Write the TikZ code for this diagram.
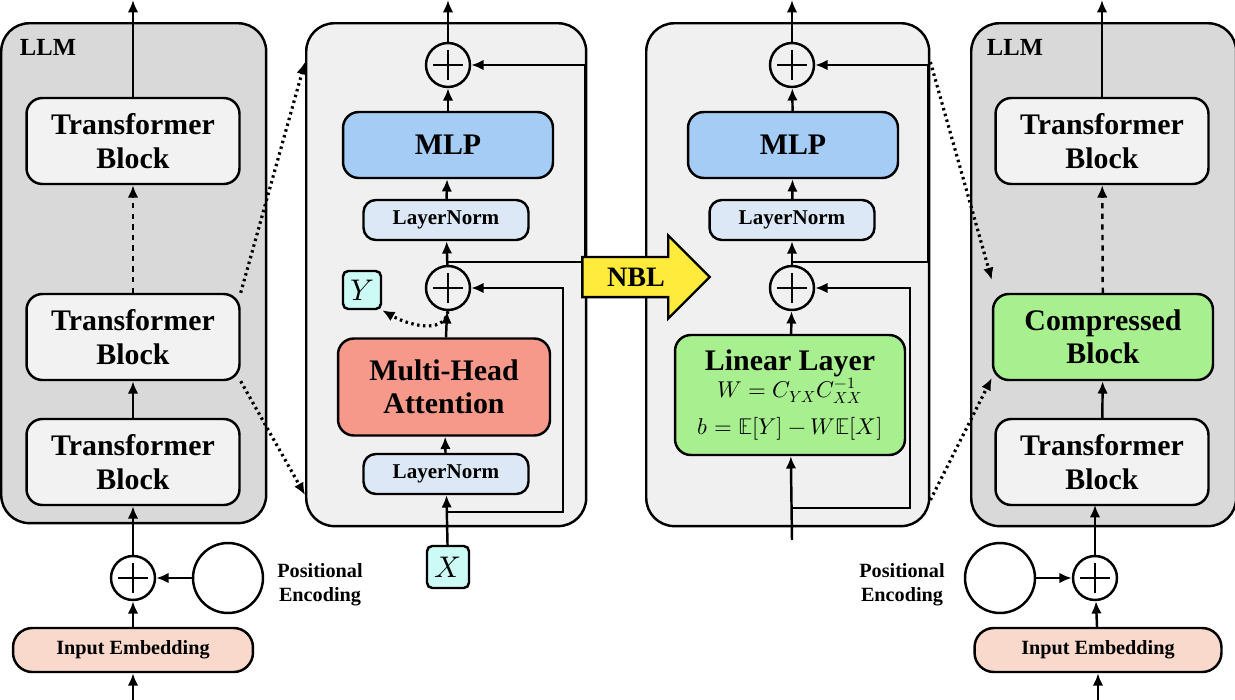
\documentclass[tikz,border=0pt]{standalone}
\usepackage{amsmath,amssymb}
\usepackage{fontspec}
\setmainfont{Liberation Serif}
\usepackage{unicode-math}
\setmathfont{Latin Modern Math}
\usetikzlibrary{positioning, arrows.meta, shapes.arrows}
\definecolor{llmgray}{RGB}{217,217,217}
\definecolor{panelgray}{RGB}{240,240,240}
\definecolor{blockgray}{RGB}{242,242,242}
\definecolor{mlpblue}{RGB}{164,204,245}
\definecolor{lnblue}{RGB}{220,232,246}
\definecolor{attnred}{RGB}{246,152,138}
\definecolor{lingreen}{RGB}{168,240,143}
\definecolor{embpink}{RGB}{248,217,204}
\definecolor{varcyan}{RGB}{204,250,245}
\definecolor{nblyellow}{RGB}{255,235,60}
\tikzset{
>={Latex[length=7pt,width=6pt]}, % arrow heads
every path/.style={line width=1.4pt},
panel/.style={draw, rounded corners=16pt},
block/.style={draw, rounded corners=9pt, align=center, font=\bfseries\fontsize{17}{19}\selectfont},
tblock/.style={block, fill=blockgray, minimum width=4.26cm, minimum height=1.72cm},
norm/.style={draw, rounded corners=7pt, fill=lnblue, minimum width=3.3cm, minimum height=0.8cm, font=\bfseries\fontsize{12}{14}\selectfont},
embed/.style={draw, rounded corners=11pt, fill=embpink, minimum width=4.8cm, minimum height=0.88cm, font=\bfseries\fontsize{11.5}{13}\selectfont},
adder/.style={draw, circle, minimum size=0.88cm, inner sep=0pt, path picture={
  \draw[line width=1.6pt] ([xshift=-0.3cm]path picture bounding box.center) -- ([xshift=0.3cm]path picture bounding box.center)
  ([yshift=-0.3cm]path picture bounding box.center) -- ([yshift=0.3cm]path picture bounding box.center);}},
wave/.style={draw, circle, minimum size=1.4cm, inner sep=0pt},
var/.style={draw, rounded corners=3pt, fill=varcyan, minimum size=0.76cm, inner sep=0pt, font=\fontsize{17}{19}\selectfont},
lbl/.style={font=\bfseries\fontsize{11.5}{13.5}\selectfont, align=center},
dots/.style={dotted, line width=1.8pt},
}
\newcommand{\sinewave}[2]{\draw[line width=1pt] plot[smooth, samples=30, domain=-35:35] ({#1+\x}, {#2-20*sin(\x*180/35)});}

\begin{document}
\begin{tikzpicture}[x=0.02cm, y=-0.02cm]
\useasboundingbox (0,0) rectangle (1235,700);

% left LLM
\node[panel, fill=llmgray, minimum width=5.3cm, minimum height=10cm, anchor=north west] (llmL) at (0,22) {};
\node[font=\bfseries\fontsize{14}{16}\selectfont] at (48,47) {LLM};
\node[tblock] (tbL3) at (133,141) {Transformer\\Block};
\node[tblock] (tbL2) at (133,337) {Transformer\\Block};
\node[tblock] (tbL1) at (133,462) {Transformer\\Block};
\node[adder] (addL) at (133,578) {};
\node[wave] (posL) at (228,578) {};
\sinewave{228}{578}
\node[lbl] at (320,585) {Positional\\Encoding};
\node[embed] (embL) at (133,650) {Input Embedding};
\coordinate (inL) at (133,700);
\coordinate (outL) at (133,0);
\draw[->] (inL) -- (embL);
\draw[->] (embL) -- (addL);
\draw[->] (posL) -- (addL);
\draw[->] (addL) -- (tbL1);
\draw[->] (tbL1) -- (tbL2);
\draw[->, dashed] (tbL2) -- (tbL3);
\draw[->] (tbL3) -- (outL);

% attention block
\node[panel, fill=panelgray, minimum width=5.6cm, minimum height=10.06cm, anchor=north west] (blkA) at (305,22) {};
\node[adder] (addA2) at (448,65) {};
\node[block, fill=mlpblue, minimum width=4.2cm, minimum height=1.32cm] (mlpA) at (448,145) {MLP};
\node[norm] (lnA2) at (446,220) {LayerNorm};
\node[adder] (addA1) at (448,288) {};
\node[var] (y) at (362,290) {$Y$};
\node[block, fill=attnred, minimum width=4.24cm, minimum height=1.94cm] (mha) at (444,387) {Multi-Head\\Attention};
\node[norm] (lnA1) at (446,474) {LayerNorm};
\node[var, minimum size=0.84cm] (x) at (448,567) {$X$};
\coordinate (outA) at (448,0);
\draw[->] (x) -- (lnA1);
\draw[->] (lnA1) -- (mha);
\draw[->] (mha) -- (addA1);
\draw[->] (addA1) -- (lnA2);
\draw[->] (lnA2) -- (mlpA);
\draw[->] (mlpA) -- (addA2);
\draw[->] (addA2) -- (outA);
\draw[->] (448,512) -| (563,288) -- (addA1);
\draw[->] (448,262) -| (585,65) -- (addA2);
\draw[->, dots] (addA1.south) to[out=-100, in=-30] (y.south east);

% linear block
\node[panel, fill=panelgray, minimum width=5.66cm, minimum height=10.06cm, anchor=north west] (blkB) at (645,22) {};
\node[adder] (addB2) at (792,65) {};
\node[block, fill=mlpblue, minimum width=4.2cm, minimum height=1.32cm] (mlpB) at (793,145) {MLP};
\node[norm] (lnB) at (792,220) {LayerNorm};
\node[adder] (addB1) at (792,288) {};
\node[block, fill=lingreen, minimum width=4.6cm, minimum height=2.4cm] (lin) at (790,395)
  {Linear Layer\\[-4pt]{\mdseries\fontsize{13}{15}\selectfont $W=C_{YX}C_{XX}^{-1}$}\\[2pt]{\mdseries\fontsize{13}{15}\selectfont $b=\mathbb{E}[Y]-W\mathbb{E}[X]$}};
\coordinate (inB) at (792,540);
\coordinate (outB) at (792,0);
\draw[->] (inB) -- (lin);
\draw[->] (lin) -- (addB1);
\draw[->] (addB1) -- (lnB);
\draw[->] (lnB) -- (mlpB);
\draw[->] (mlpB) -- (addB2);
\draw[->] (addB2) -- (outB);
\draw[->] (792,508) -| (910,288) -- (addB1);
\draw[->] (792,262) -| (928,65) -- (addB2);

% NBL
\node[single arrow, draw, fill=nblyellow, line width=1.4pt, minimum height=2.55cm, minimum width=1.66cm,
  single arrow head extend=0.3cm, inner sep=2pt, font=\bfseries\fontsize{16}{18}\selectfont] (nbl) at (636,277) {NBL\hspace{0.6cm}};

% right LLM
\node[panel, fill=llmgray, minimum width=5.3cm, minimum height=10.06cm, anchor=north west] (llmR) at (970,22) {};
\node[font=\bfseries\fontsize{14}{16}\selectfont] at (1015,47) {LLM};
\node[tblock] (tbR3) at (1102,141) {Transformer\\Block};
\node[tblock, fill=lingreen, minimum width=4.4cm] (comp) at (1103,337) {Compressed\\Block};
\node[tblock] (tbR1) at (1102,462) {Transformer\\Block};
\node[adder] (addR) at (1095,578) {};
\node[wave] (posR) at (1000,578) {};
\sinewave{1000}{578}
\node[lbl] at (902,585) {Positional\\Encoding};
\node[embed, minimum width=4.94cm] (embR) at (1098,650) {Input Embedding};
\coordinate (inR) at (1098,700);
\coordinate (outR) at (1102,0);
\draw[->] (inR) -- (embR);
\draw[->] (embR) -- (addR);
\draw[->] (posR) -- (addR);
\draw[->] (addR) -- (1095,505);
\draw[->] (tbR1) -- (comp);
\draw[->, dashed] (comp) -- (tbR3);
\draw[->] (tbR3) -- (outR);

% zoom lines
\draw[->, dots] (tbL2.north east) -- (blkA.north west |- 0,62);
\draw[->, dots] (tbL2.south east) -- (blkA.south west |- 0,495);
\draw[->, dots] (blkB.north east |- 0,62) -- (comp.north west |- 0,280);
\draw[->, dots] (blkB.south east |- 0,500) -- (comp.south west |- 0,378);
\end{tikzpicture}
\end{document}
